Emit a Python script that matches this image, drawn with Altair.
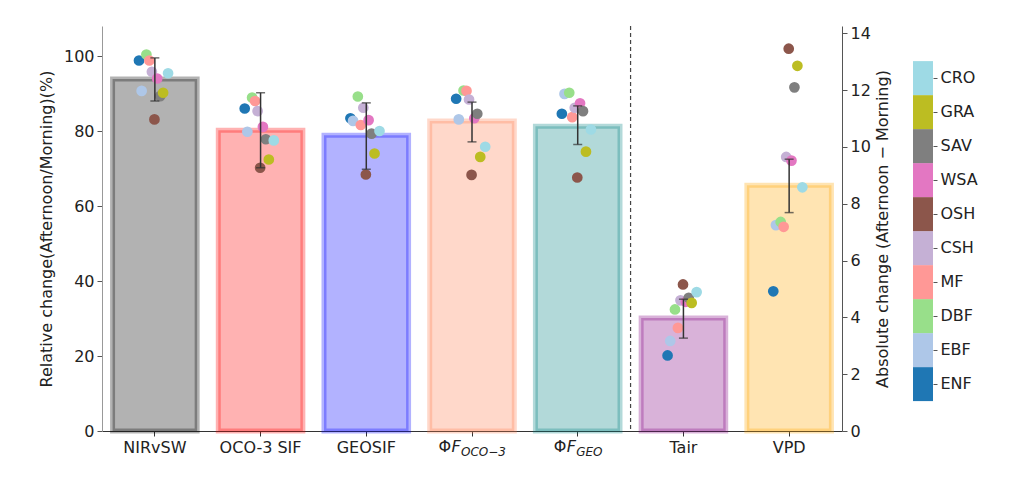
import altair as alt
import pandas as pd

# ---------------- data ----------------
variables = ["NIRvSW", "OCO-3 SIF", "GEOSIF", "ΦF_OCO-3", "ΦF_GEO", "Tair", "VPD"]
left_vars = variables[:5]
right_vars = variables[5:]
bar_values = [93.9, 80.2, 78.9, 82.7, 81.3, 3.98, 8.65]
err_low = [88.0, 70.2, 69.8, 77.1, 76.4, 3.27, 7.69]
err_high = [99.5, 90.2, 87.5, 87.7, 86.7, 4.64, 9.57]
bar_colors = ["#000000", "#ff0000", "#0000ff", "#ff7f50", "#008080", "#800080", "#ffa500"]

land_cover = ["ENF", "EBF", "DBF", "MF", "CSH", "OSH", "WSA", "SAV", "GRA", "CRO"]
lc_colors = ["#1f77b4", "#aec7e8", "#98df8a", "#ff9896", "#c5b0d5",
             "#8c564b", "#e377c2", "#7f7f7f", "#bcbd22", "#9edae5"]
# strip-plot jitter of each land-cover point (in category units)
jitter = [-0.15, -0.125, -0.08, -0.052, -0.028, -0.004, 0.022, 0.05, 0.078, 0.125]

nirvsw = [98.8, 90.7, 100.4, 98.8, 95.8, 83.1, 94.0, 89.3, 90.2, 95.4]
oco3_sif = [86.0, 79.8, 88.9, 88.0, 85.3, 70.2, 81.1, 77.8, 72.4, 77.5]
geosif = [83.4, 82.7, 89.2, 81.6, 86.2, 68.4, 82.9, 79.3, 74.0, 80.0]
phif_oco = [88.6, 83.1, 90.8, 90.7, 88.4, 68.3, 83.4, 84.6, 73.1, 75.8]
phif_geo = [84.6, 89.9, 90.2, 83.7, 86.2, 67.6, 87.4, 85.3, 74.5, 80.4]
tair = [2.66, 3.17, 4.28, 3.63, 4.60, 5.16, 4.55, 4.69, 4.51, 4.89]
vpd = [4.92, 7.25, 7.36, 7.19, 9.65, 13.46, 9.52, 12.10, 12.86, 8.58]
point_series = [nirvsw, oco3_sif, geosif, phif_oco, phif_geo, tair, vpd]

# ---------------- tables ----------------
bars_df = pd.DataFrame({"var": variables, "value": bar_values,
                        "lo": err_low, "hi": err_high})
rows = []
for v, series in zip(variables, point_series):
    for lc, val, j in zip(land_cover, series, jitter):
        rows.append({"var": v, "lc": lc, "value": val, "jit": j})
pts_df = pd.DataFrame(rows)
lc_df = pd.DataFrame({"lc": land_cover})

# ---------------- layout ----------------
W, H = 740, 405
step = W / 7
bw = 0.8 * step
FONT = "DejaVu Sans"
TXT = "#222222"

xscale = alt.Scale(domain=variables, paddingInner=0.2, paddingOuter=0.1)
xaxis = alt.Axis(title=None, labelFontSize=16, labelAngle=0, tickSize=5,
                 labelPadding=3, domainColor="#333", tickColor="#333",
                 labelColor=TXT,
                 labelExpr="indexof(datum.label, 'Φ') >= 0 ? '' : datum.label")
X = alt.X("var:N", scale=xscale, axis=xaxis, sort=variables)

fill_scale = alt.Scale(domain=variables, range=bar_colors)
lc_scale = alt.Scale(domain=land_cover, range=lc_colors)


def group(var_list, yscale, yaxis):
    b = alt.Chart(bars_df).transform_filter(
        alt.FieldOneOfPredicate(field="var", oneOf=var_list))
    p = alt.Chart(pts_df).transform_filter(
        alt.FieldOneOfPredicate(field="var", oneOf=var_list))
    Y = alt.Y("value:Q", scale=yscale, axis=yaxis)
    bars = b.mark_bar(fillOpacity=0.3, strokeOpacity=0.3, strokeWidth=5,
                      width=bw).encode(
        x=X, y=Y,
        fill=alt.Fill("var:N", scale=fill_scale, legend=None),
        stroke=alt.Stroke("var:N", scale=fill_scale, legend=None),
    )
    pts = p.mark_circle(size=115, opacity=1).encode(
        x=X,
        xOffset=alt.XOffset("jit:Q", scale=alt.Scale(domain=[-0.4, 0.4], range=[0, bw])),
        y=alt.Y("value:Q"),
        color=alt.Color("lc:N", scale=lc_scale, legend=None),
    )
    rule = b.mark_rule(color="#333", strokeWidth=1.5).encode(
        x=X, y=alt.Y("lo:Q"), y2="hi:Q")
    tlo = b.mark_tick(color="#333", size=9, thickness=1.5).encode(x=X, y=alt.Y("lo:Q"))
    thi = b.mark_tick(color="#333", size=9, thickness=1.5).encode(x=X, y=alt.Y("hi:Q"))
    return alt.layer(bars, pts, rule, tlo, thi)


left_axis = alt.Axis(orient="left", values=[0, 20, 40, 60, 80, 100],
                     title="Relative change(Afternoon/Morning)(%)",
                     titleFontSize=16, titleFontWeight="normal", titleColor=TXT,
                     titlePadding=9, labelFontSize=16, labelColor=TXT,
                     tickSize=5, labelPadding=3, grid=False,
                     domainColor="#999", tickColor="#555")
right_axis = alt.Axis(orient="right", values=[0, 2, 4, 6, 8, 10, 12, 14],
                      title="Absolute change (Afternoon − Morning)",
                      titleFontSize=16, titleFontWeight="normal", titleColor=TXT,
                      titleAngle=270, titlePadding=20, labelFontSize=16,
                      labelColor=TXT, tickSize=5, labelPadding=3, grid=False,
                      domainColor="#555", tickColor="#555")

left = group(left_vars, alt.Scale(domain=[0, 108], nice=False, zero=True), left_axis)
right = group(right_vars, alt.Scale(domain=[0, 14.26], nice=False, zero=True), right_axis)

# dashed separator between the two groups
sep = alt.Chart(pd.DataFrame({"var": ["Tair"]})).mark_rule(
    strokeDash=[4, 3], color="#444", strokeWidth=1.2, xOffset=-step * 0.1).encode(
    x=alt.X("var:N", scale=xscale, axis=xaxis, sort=variables, bandPosition=0),
    y=alt.value(0), y2=alt.value(H))

# x labels with subscripts: ΦF_{OCO-3}, ΦF_{GEO}
label_layers = []
for name, sub, start in [("ΦF_OCO-3", "OCO−3", -33.5), ("ΦF_GEO", "GEO", -24)]:
    src = alt.Chart(pd.DataFrame({"var": [name]}))
    label_layers.append(src.mark_text(text="Φ", align="left", baseline="top",
                                      dx=start, fontSize=16, color=TXT).encode(
        x=X, y=alt.value(H + 8)))
    label_layers.append(src.mark_text(text="F", align="left", baseline="top",
                                      dx=start + 13, fontSize=16, fontStyle="italic",
                                      color=TXT).encode(x=X, y=alt.value(H + 8)))
    label_layers.append(src.mark_text(text=sub, align="left", baseline="top",
                                      dx=start + 22.5, fontSize=12, fontStyle="italic",
                                      color=TXT).encode(x=X, y=alt.value(H + 16)))

main = alt.layer(left, right, sep, *label_layers).resolve_scale(
    y="independent", xOffset="independent").properties(width=W, height=H)

# colour bar
cbar = alt.Chart(lc_df).mark_rect().encode(
    y=alt.Y("lc:N", sort=land_cover[::-1],
            scale=alt.Scale(paddingInner=0, paddingOuter=0.956, align=0.54),
            axis=alt.Axis(orient="right", title=None, domain=False, labelFontSize=16,
                          labelColor=TXT, tickSize=4, tickColor="#555", labelPadding=3)),
    color=alt.Color("lc:N", scale=lc_scale, legend=None),
).properties(width=20, height=H)

chart = alt.hconcat(main, cbar, spacing=22).properties(
    padding={"left": 30, "top": 17, "right": 5, "bottom": 5}
).configure(font=FONT).configure_view(stroke=None)

chart.save("out.html", embed_options={"renderer": "svg", "actions": False})
